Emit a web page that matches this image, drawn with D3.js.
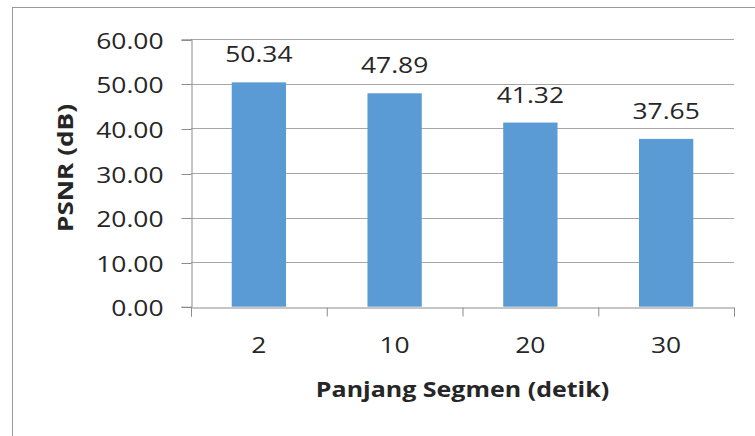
<!DOCTYPE html>
<html>
<head>
<meta charset="utf-8">
<script src="https://cdn.jsdelivr.net/npm/d3@7"></script>
<style>
  html, body { margin: 0; padding: 0; background: #fff; }
  svg { display: block; }
  text { font-family: "Open Sans", "Noto Sans", sans-serif; fill: #262626; }
</style>
</head>
<body>
<svg id="chart" width="755" height="436"></svg>
<script>
// Segment length (seconds) and measured PSNR (dB)
const categories = ["2", "10", "20", "30"];
const psnr = [50.34, 47.89, 41.32, 37.65];
const yTicks = [0, 10, 20, 30, 40, 50, 60];
const xTitle = "Panjang Segmen (detik)";
const yTitle = "PSNR (dB)";

const svg = d3.select("#chart");
const plot = { left: 191, right: 734, top: 39.3, bottom: 306.7 };
const stretch = 1.2; // horizontal widening of the lettering

// outer chart frame
svg.append("rect")
  .attr("x", 12.5).attr("y", 7.5)
  .attr("width", 800).attr("height", 500)
  .attr("fill", "none").attr("stroke", "#9a9a9a").attr("stroke-width", 1);

const y = d3.scaleLinear().domain([0, 60]).range([plot.bottom, plot.top]);
const x = d3.scaleBand().domain(categories)
  .range([plot.left, plot.right])
  .paddingInner(0.6).paddingOuter(0.3);
const bounds = d3.scaleLinear().domain([0, categories.length]).range([plot.left, plot.right]);

// horizontal gridlines
svg.append("g").selectAll("line")
  .data(yTicks.filter(d => d > 0))
  .join("line")
  .attr("x1", plot.left).attr("x2", plot.right)
  .attr("y1", d => Math.round(y(d)) + 0.5).attr("y2", d => Math.round(y(d)) + 0.5)
  .attr("stroke", "#a6a6a6").attr("stroke-width", 1);

// bars
svg.append("g").selectAll("rect")
  .data(psnr)
  .join("rect")
  .attr("x", (d, i) => x(categories[i]))
  .attr("y", d => y(d))
  .attr("width", x.bandwidth())
  .attr("height", d => y(0) - y(d))
  .attr("fill", "#5b9bd5");

// y axis
const yAxis = svg.append("g")
  .attr("transform", `translate(${plot.left + 0.5},0)`)
  .call(d3.axisLeft(y).tickValues(yTicks).tickSize(10).tickPadding(0)
    .tickFormat(d => d.toFixed(2)));
yAxis.select(".domain").attr("stroke", "#8c8c8c");
yAxis.selectAll(".tick line").attr("stroke", "#8c8c8c");
yAxis.selectAll(".tick text")
  .attr("x", null).attr("dy", null)
  .attr("transform", `translate(-28,8) scale(${stretch},1)`)
  .attr("font-size", 22)
  .attr("font-family", "'Open Sans', sans-serif")
  .attr("fill", "#262626");
yAxis.selectAll(".tick").each(function () {
  const t = d3.select(this);
  const ty = +t.attr("transform").match(/,([\d.\-]+)\)/)[1];
  t.attr("transform", `translate(0,${Math.round(ty) + 0.5})`);
});

// x axis: tick marks on category boundaries
const xAxisMarks = svg.append("g")
  .attr("transform", `translate(0,${Math.round(plot.bottom) + 0.5})`)
  .call(d3.axisBottom(bounds).ticks(categories.length).tickSize(9).tickFormat(""));
xAxisMarks.select(".domain").attr("stroke", "#8c8c8c");
xAxisMarks.selectAll(".tick line").attr("stroke", "#8c8c8c");

// x axis: category labels
const xAxisLabels = svg.append("g")
  .attr("transform", `translate(0,${plot.bottom})`)
  .call(d3.axisBottom(x).tickSize(0).tickPadding(0));
xAxisLabels.select(".domain").remove();
xAxisLabels.selectAll(".tick text")
  .attr("y", null).attr("dy", null)
  .attr("transform", `translate(0,46) scale(${stretch},1)`)
  .attr("font-size", 22)
  .attr("font-family", "'Open Sans', sans-serif")
  .attr("fill", "#262626");

// value labels above bars
svg.append("g").selectAll("text")
  .data(psnr)
  .join("text")
  .attr("transform", (d, i) =>
    `translate(${x(categories[i]) + x.bandwidth() / 2},${y(d) - 20}) scale(${stretch},1)`)
  .attr("text-anchor", "middle")
  .attr("font-size", 22)
  .text(d => d.toFixed(2));

// axis titles
svg.append("text")
  .attr("transform", `translate(${(plot.left + plot.right) / 2},397) scale(1.19,1)`)
  .attr("text-anchor", "middle")
  .attr("font-size", 21)
  .attr("font-weight", "bold")
  .attr("fill", "#0d0d0d")
  .text(xTitle);

svg.append("text")
  .attr("transform", "translate(73,168) rotate(-90)")
  .attr("text-anchor", "middle")
  .attr("font-size", 22)
  .attr("font-weight", "bold")
  .attr("fill", "#0d0d0d")
  .attr("textLength", 128)
  .attr("lengthAdjust", "spacingAndGlyphs")
  .text(yTitle);
</script>
</body>
</html>
